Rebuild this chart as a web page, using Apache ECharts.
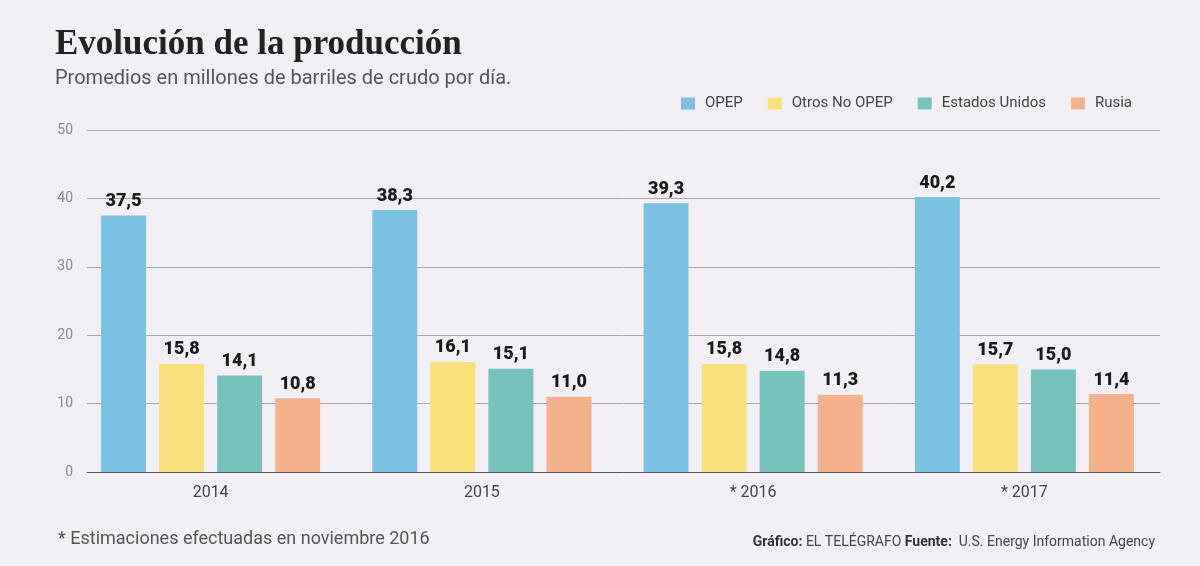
<!DOCTYPE html>
<html>
<head>
<meta charset="utf-8">
<title>Evolución de la producción</title>
<script src="https://cdn.jsdelivr.net/npm/echarts@6/dist/echarts.min.js"></script>
<style>
  html, body { margin: 0; padding: 0; background: #f3f0f5; }
  #chart { width: 1200px; height: 566px; }
</style>
</head>
<body>
<div id="chart"></div>
<script>
// datos del gráfico
const years = ['2014', '2015', '* 2016', '* 2017']
const seriesNames = ['OPEP', 'Otros No OPEP', 'Estados Unidos', 'Rusia']
const opep = [37.5, 38.3, 39.3, 40.2]
const otrosNoOpep = [15.8, 16.1, 15.8, 15.7]
const estadosUnidos = [14.1, 15.1, 14.8, 15.0]
const rusia = [10.8, 11.0, 11.3, 11.4]
const colors = ['#7bc1e2', '#f8e07c', '#78c2bd', '#f4b28c']

const chart = echarts.init(document.getElementById('chart'))

const fmt = (p) => p.value.toFixed(1).replace('.', ',')

const makeBar = (name, data, i) => ({
  name: name,
  type: 'bar',
  xAxisIndex: 1,
  yAxisIndex: 1,
  data: data,
  barWidth: 45,
  barGap: '29%',
  itemStyle: { color: colors[i] },
  label: {
    show: true,
    position: 'top',
    distance: 5,
    formatter: fmt,
    color: '#1a1a1a',
    fontFamily: 'Roboto',
    fontWeight: 900,
    fontSize: 18
  }
})

const option = {
  backgroundColor: '#f3f0f5',
  animation: false,
  textStyle: { fontFamily: 'Roboto' },
  graphic: [
    {
      type: 'text', left: 55, top: 27,
      style: { text: 'Evolución de la producción', font: 'bold 35px "Liberation Serif"', fill: '#222' }
    },
    {
      type: 'text', left: 55, top: 69,
      style: { text: 'Promedios en millones de barriles de crudo por día.', font: '20px Roboto', fill: '#555' }
    },
    {
      type: 'text', left: 58, top: 530,
      style: { text: '* Estimaciones efectuadas en noviembre 2016', font: '18px Roboto', fill: '#555' }
    },
    {
      type: 'text', right: 45, top: 535,
      style: {
        text: '{b|Gráfico:} EL TELÉGRAFO {b|Fuente:}  U.S. Energy Information Agency',
        font: '14px Roboto',
        fill: '#444',
        rich: { b: { fontWeight: 'bold', fontSize: 14, fill: '#333', fontFamily: 'Roboto' } }
      }
    }
  ],
  legend: {
    data: seriesNames,
    right: 63,
    top: 91,
    itemWidth: 14,
    itemHeight: 12,
    itemGap: 25,
    icon: 'rect',
    textStyle: { color: '#444', fontSize: 15, padding: [0, 0, 0, 5] }
  },
  grid: [
    // rejilla de líneas
    { left: 87, right: 40, top: 130, bottom: 94 },
    // rejilla de barras
    { left: 75, right: 40, top: 130, bottom: 94 }
  ],
  xAxis: [
    {
      gridIndex: 0, type: 'value', min: 0, max: 1,
      axisLine: { show: true, lineStyle: { color: '#555', width: 1 } },
      axisTick: { show: false }, axisLabel: { show: false }, splitLine: { show: false }
    },
    {
      gridIndex: 1, type: 'category', data: years,
      axisLine: { show: false }, axisTick: { show: false },
      axisLabel: { color: '#444', fontSize: 16, margin: 13 }
    }
  ],
  yAxis: [
    {
      gridIndex: 0, type: 'value', min: 0, max: 50, interval: 10,
      axisLine: { show: false }, axisTick: { show: false },
      axisLabel: { color: '#8a8a8a', fontSize: 14, margin: 14 },
      splitLine: { lineStyle: { color: '#a8a8a8', width: 1 } }
    },
    {
      gridIndex: 1, type: 'value', min: 0, max: 50, interval: 10,
      show: false
    }
  ],
  series: [
    makeBar(seriesNames[0], opep, 0),
    makeBar(seriesNames[1], otrosNoOpep, 1),
    makeBar(seriesNames[2], estadosUnidos, 2),
    makeBar(seriesNames[3], rusia, 3)
  ]
}

chart.setOption(option)
</script>
</body>
</html>
